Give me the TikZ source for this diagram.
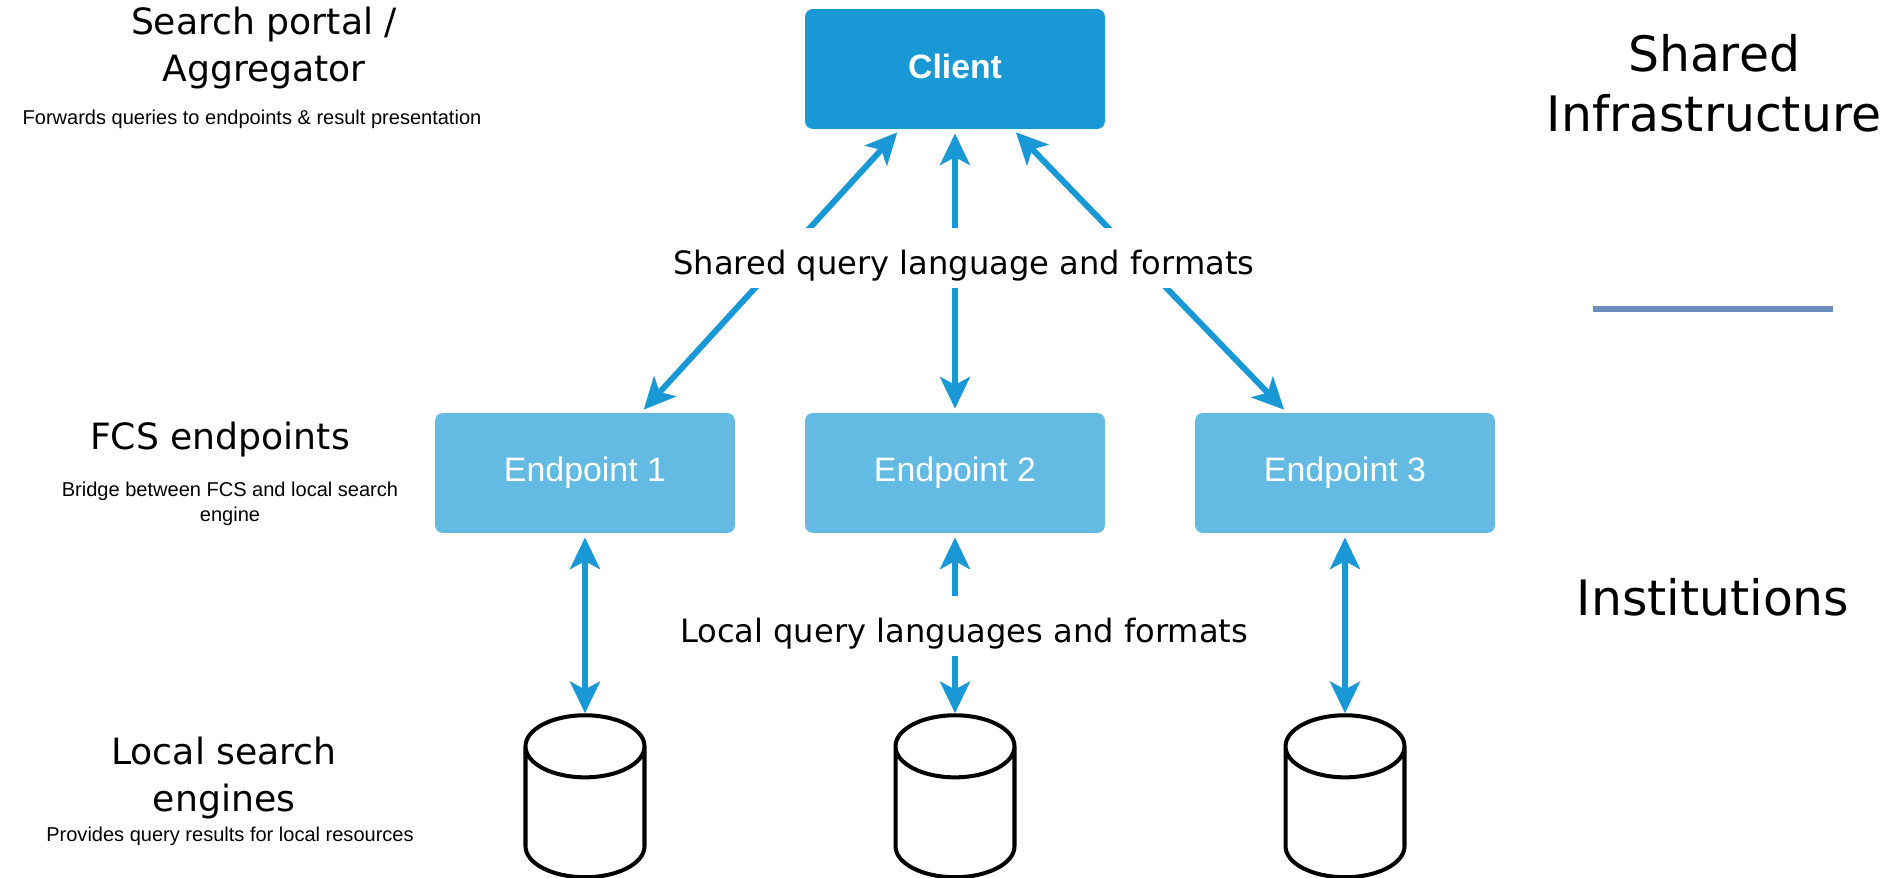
\documentclass[tikz,border=0pt]{standalone}
\usepackage{fontspec}
\setmainfont{Liberation Sans}
\newfontfamily\verdfont{DejaVu Sans}
\usetikzlibrary{arrows.meta,calc,shapes.geometric}
\definecolor{clientblue}{HTML}{1899D5}
\definecolor{endpointblue}{HTML}{63BAE2}
\definecolor{sepblue}{HTML}{6C8EBF}
\tikzset{
  clientbox/.style={fill=clientblue,text=white,rounded corners=4.5pt,minimum width=6cm,minimum height=2.4cm,text depth=2.8pt,font=\fontsize{19.2}{23}\selectfont\bfseries},
  endpointbox/.style={fill=endpointblue,text=white,rounded corners=4.5pt,minimum width=6cm,minimum height=2.4cm,font=\fontsize{19.3}{23}\selectfont},
  store/.style={cylinder,draw=black,line width=2.3pt,fill=white,shape border rotate=90,aspect=5.3,minimum width=2.38cm,minimum height=3.24cm},
  conn/.style={{Stealth[length=18pt,width=17pt,inset=4.5pt]}-{Stealth[length=18pt,width=17pt,inset=4.5pt]},line width=3.4pt,draw=clientblue,shorten <=2.3pt,shorten >=2.3pt},
  sidehead/.style={align=center,font=\verdfont\fontsize{20.6}{27}\selectfont},
  sidenote/.style={align=center,font=\fontsize{11.4}{14}\selectfont},
  bighead/.style={align=center,font=\verdfont\fontsize{27.8}{34}\selectfont},
  midlabel/.style={fill=white,inner xsep=0pt,inner ysep=0pt,text height=26.5pt,text depth=8.1pt,font=\verdfont\fontsize{18.3}{22}\selectfont}
}
\begin{document}
\begin{tikzpicture}[x=0.02cm,y=-0.02cm]
\useasboundingbox (0,0) rectangle (1880,878);

\node [clientbox] (client) at (955,69) {Client};
\node [endpointbox] (endpoint1) at (585,473) {Endpoint 1};
\node [endpointbox] (endpoint2) at (955,473) {Endpoint 2};
\node [endpointbox] (endpoint3) at (1345,473) {Endpoint 3};

\node [store] (store1) at (585,819.5) {};
\node [store] (store2) at (955,819.5) {};
\node [store] (store3) at (1345,819.5) {};

% query language
\draw [conn] ($(endpoint1.north)+(56,0)$) -- ($(client.south)+(-55,0)$);
\draw [conn] (endpoint2.north) -- (client.south);
\draw [conn] ($(endpoint3.north)+(-58,0)$) -- ($(client.south)+(58,0)$);
\node [midlabel] (sharedlabel) at (964,258) {Shared query language and formats};

% local side
\draw [conn,shorten >=0pt] (endpoint1.south) -- (store1.north);
\draw [conn,shorten >=0pt] (endpoint2.south) -- (store2.north);
\draw [conn,shorten >=0pt] (endpoint3.south) -- (store3.north);
\node [midlabel] (locallabel) at (964,626) {Local query languages and formats};

% left column
\node [sidehead] (portal) at (264,48) {Search portal /\\Aggregator};
\node [sidenote] (portalnote) at (252,119) {Forwards queries to endpoints \& result presentation};
\node [sidehead] (fcs) at (220,440) {FCS endpoints};
\node [sidenote] (fcsnote) at (230,504) {Bridge between FCS and local search\\engine};
\node [sidehead] (engines) at (224,778) {Local search\\engines};
\node [sidenote] (enginesnote) at (230,836) {Provides query results for local resources};

% right column
\node [bighead] (shared) at (1714,83) {Shared\\Infrastructure};
\node [bighead] (institutions) at (1713,597) {Institutions};
\coordinate (sepleft) at (1593,309);
\coordinate (sepright) at (1833,309);
\draw [sepblue,line width=3.2pt] (sepleft) -- (sepright);

\end{tikzpicture}
\end{document}
